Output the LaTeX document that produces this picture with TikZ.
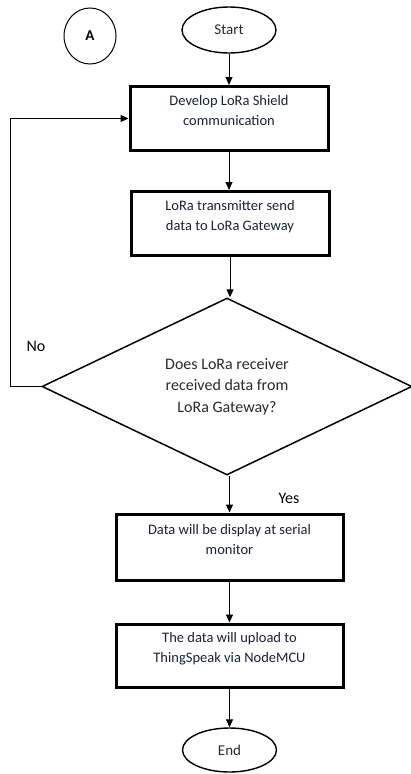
\documentclass[tikz,border=0pt]{standalone}
\usepackage{fontspec}
\setmainfont{Carlito}
\usetikzlibrary{shapes.geometric,arrows.meta}
\definecolor{boxtxt}{HTML}{1A2233}
\definecolor{dtxt}{HTML}{2A2A2A}
\begin{document}
\begin{tikzpicture}[x=1pt,y=-1pt,
  stepbox/.style={draw,line width=3pt,minimum width=198pt,minimum height=64pt,inner sep=0pt,align=center,text=boxtxt,font=\fontsize{14.5}{20}\selectfont},
  term/.style={draw,ellipse,line width=1.4pt,minimum width=94pt,minimum height=46pt,inner sep=0pt,font=\fontsize{15}{17}\selectfont,text=dtxt},
  decide/.style={draw,diamond,line width=1.5pt,minimum width=370pt,minimum height=177pt,aspect=2.09,inner sep=0pt,align=center,text=dtxt,font=\fontsize{16}{21.5}\selectfont},
  flow/.style={line width=1pt,-{Triangle[length=8pt,width=7pt]}},
  lbl/.style={font=\fontsize{16}{18}\selectfont,text=black}]
\useasboundingbox (0,0) rectangle (411,774);
\node[draw,ellipse,line width=1pt,minimum width=52pt,minimum height=56pt,inner sep=0pt,font=\bfseries\fontsize{15}{17}\selectfont] (A) at (90,36) {A};
\node[term] (start) at (229,30) {Start};
\node[stepbox] (b1) at (229,118.5) {Develop LoRa Shield\\communication\\[-4pt]};
\node[stepbox] (b2) at (230,223.5) {LoRa transmitter send\\data to LoRa Gateway\\[-4pt]};
\node[decide] (d) at (227,386.5) {Does LoRa receiver\\received data from\\LoRa Gateway?};
\node[stepbox,minimum width=227pt,minimum height=66pt] (b3) at (229.5,547) {Data will be display at serial\\monitor\\[-4pt]};
\node[stepbox,minimum width=227pt,minimum height=63pt] (b4) at (229.5,655.5) {The data will upload to\\ThingSpeak via NodeMCU\\[-4pt]};
\node[term,minimum height=44pt] (end) at (229.5,750) {End};
\coordinate (c1) at (10,386.5);
\coordinate (c2) at (10,118.5);
\node[lbl] (no) at (36,346) {No};
\node[lbl] (yes) at (289,498) {Yes};
\draw[flow] (start) -- (b1);
\draw[flow] (b1) -- (b1 |- b2.north);
\draw[flow] (b2) -- (b2 |- d.north);
\draw[flow] (d.west) -- (c1) -- (c2) -- (b1.west);
\draw[flow] (d.south -| b3) -- (b3);
\draw[flow] (b3) -- (b4);
\draw[flow] (b4) -- (end);
\end{tikzpicture}
\end{document}
